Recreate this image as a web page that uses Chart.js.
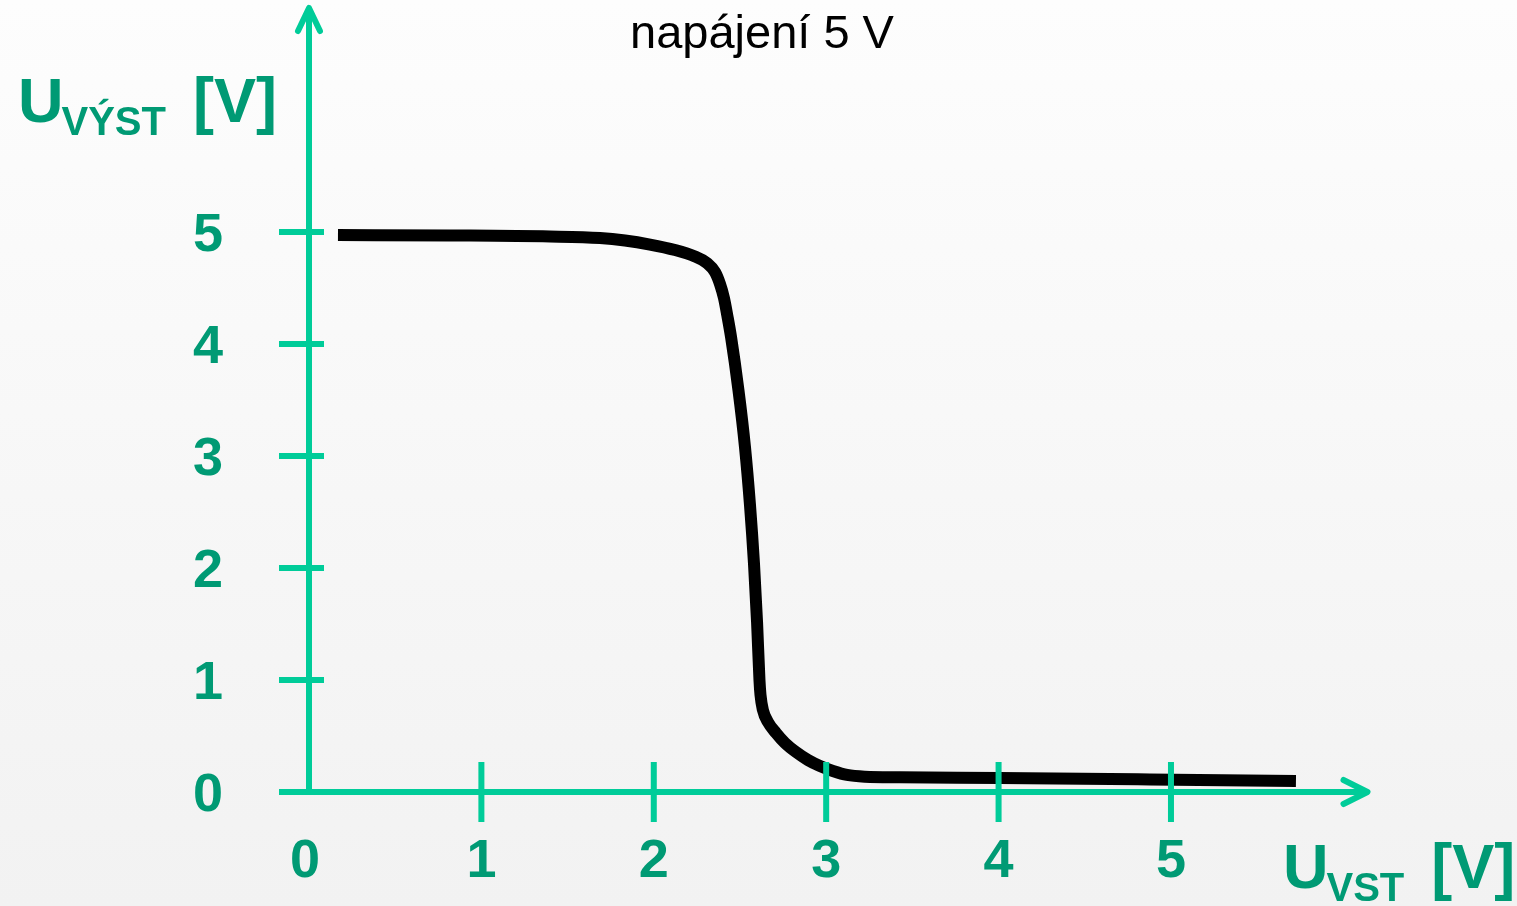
<!DOCTYPE html>
<html lang="cs">
<head>
<meta charset="utf-8">
<title>napájení 5 V</title>
<script src="https://cdn.jsdelivr.net/npm/chart.js@4.4.1/dist/chart.umd.min.js"></script>
<style>
  html, body { margin: 0; padding: 0; }
  body {
    width: 1517px; height: 906px; overflow: hidden;
    background: linear-gradient(to bottom, #fdfdfd 0%, #f2f2f2 100%);
  }
  #wrap { position: relative; width: 1517px; height: 906px; }
</style>
</head>
<body>
<div id="wrap"><canvas id="c" width="1517" height="906"></canvas></div>
<script>
// Transfer characteristic: input voltage (V) vs. output voltage (V)
const uIn  = [0.168, 0.818, 1.398, 1.688, 1.833, 1.978, 2.123, 2.239, 2.309, 2.355, 2.384, 2.407,
              2.427, 2.448, 2.491, 2.529, 2.558, 2.581, 2.599, 2.613, 2.619, 2.633, 2.662, 2.709,
              2.761, 2.825, 2.894, 2.964, 3.039, 3.121, 3.225, 3.428, 4.008, 4.878, 5.725];
const uOut = [4.973, 4.969, 4.960, 4.946, 4.924, 4.888, 4.839, 4.781, 4.723, 4.643, 4.536, 4.411,
              4.250, 4.063, 3.589, 3.080, 2.563, 2.045, 1.518, 1.000, 0.866, 0.732, 0.625, 0.527,
              0.438, 0.357, 0.286, 0.232, 0.188, 0.152, 0.137, 0.132, 0.125, 0.112, 0.098];

const xTicks = [0, 1, 2, 3, 4, 5];
const yTicks = [0, 1, 2, 3, 4, 5];
const xTickLabels = ['0', '1', '2', '3', '4', '5'];
const yTickLabels = ['0', '1', '2', '3', '4', '5'];

const chartTitle = 'napájení 5 V';
const yTitle = { main: 'U', sub: 'VÝST', unit: '[V]' };
const xTitle = { main: 'U', sub: 'VST', unit: '[V]' };

const AXIS_COLOR = '#00cc99';
const LABEL_COLOR = '#009a74';
const FONT = '"Liberation Sans", Arial, Helvetica, sans-serif';

const points = uIn.map((x, i) => ({ x, y: uOut[i] }));

// Hand-drawn style axes with arrows, tick stubs and labels
const axesPlugin = {
  id: 'arrowAxes',
  afterDatasetsDraw(chart) {
    const ctx = chart.ctx;
    const xs = chart.scales.x, ys = chart.scales.y;
    const x0 = xs.getPixelForValue(0), y0 = ys.getPixelForValue(0);
    const xEnd = xs.getPixelForValue(xs.max), yEnd = ys.getPixelForValue(ys.max);

    ctx.save();
    ctx.strokeStyle = AXIS_COLOR;
    ctx.lineWidth = 6;

    // axis lines
    ctx.lineCap = 'butt';
    ctx.beginPath();
    ctx.moveTo(x0 - 30, y0); ctx.lineTo(xEnd, y0);
    ctx.moveTo(x0, y0); ctx.lineTo(x0, yEnd);
    ctx.stroke();

    // arrow heads
    ctx.lineCap = 'round';
    ctx.lineJoin = 'round';
    ctx.beginPath();
    ctx.moveTo(x0 - 11, yEnd + 23); ctx.lineTo(x0, yEnd); ctx.lineTo(x0 + 11, yEnd + 23);
    ctx.moveTo(xEnd - 24, y0 - 12); ctx.lineTo(xEnd, y0); ctx.lineTo(xEnd - 24, y0 + 12);
    ctx.stroke();

    // tick stubs
    ctx.lineCap = 'butt';
    ctx.beginPath();
    xTicks.forEach(v => {
      if (v === 0) return;
      const px = xs.getPixelForValue(v);
      ctx.moveTo(px, y0 - 30); ctx.lineTo(px, y0 + 30);
    });
    yTicks.forEach(v => {
      if (v === 0) return;
      const py = ys.getPixelForValue(v);
      ctx.moveTo(x0 - 30, py); ctx.lineTo(x0 + 15, py);
    });
    ctx.stroke();

    // tick labels
    ctx.fillStyle = LABEL_COLOR;
    ctx.font = 'bold 54px ' + FONT;
    ctx.textAlign = 'center';
    ctx.textBaseline = 'alphabetic';
    xTicks.forEach((v, i) => {
      ctx.fillText(xTickLabels[i], xs.getPixelForValue(v) - (v === 0 ? 4 : 0), y0 + 85);
    });
    yTicks.forEach((v, i) => {
      ctx.fillText(yTickLabels[i], x0 - 101, ys.getPixelForValue(v) + 19);
    });

    // axis titles with subscripts
    const drawTitle = (t, x, base) => {
      ctx.textAlign = 'left';
      ctx.font = 'bold 63px ' + FONT;
      ctx.fillText(t.main, x, base);
      const w = ctx.measureText(t.main).width;
      ctx.font = 'bold 40px ' + FONT;
      ctx.fillText(t.sub, x + w - 2, base + 13);
      const ws = ctx.measureText(t.sub).width;
      ctx.font = 'bold 63px ' + FONT;
      ctx.fillText(t.unit, x + w - 2 + ws + 27, base);
    };
    drawTitle(yTitle, 18, 122);
    drawTitle(xTitle, 1283, 888);

    // chart title
    ctx.fillStyle = '#000000';
    ctx.font = '47px ' + FONT;
    ctx.textAlign = 'center';
    ctx.fillText(chartTitle, 762, 48);
    ctx.restore();
  }
};

new Chart(document.getElementById('c'), {
  type: 'scatter',
  data: {
    datasets: [{
      data: points,
      showLine: true,
      borderColor: '#000000',
      borderWidth: 12,
      borderCapStyle: 'butt',
      borderJoinStyle: 'round',
      cubicInterpolationMode: 'monotone',
      pointRadius: 0,
      pointHoverRadius: 0,
      fill: false
    }]
  },
  options: {
    responsive: false,
    animation: false,
    events: [],
    layout: { padding: { left: 309, right: 149.5, top: 8, bottom: 114 } },
    plugins: { legend: { display: false }, title: { display: false }, tooltip: { enabled: false } },
    scales: {
      x: { type: 'linear', min: 0, max: 6.14, display: false },
      y: { type: 'linear', min: 0, max: 7, display: false }
    }
  },
  plugins: [axesPlugin]
});
</script>
</body>
</html>
